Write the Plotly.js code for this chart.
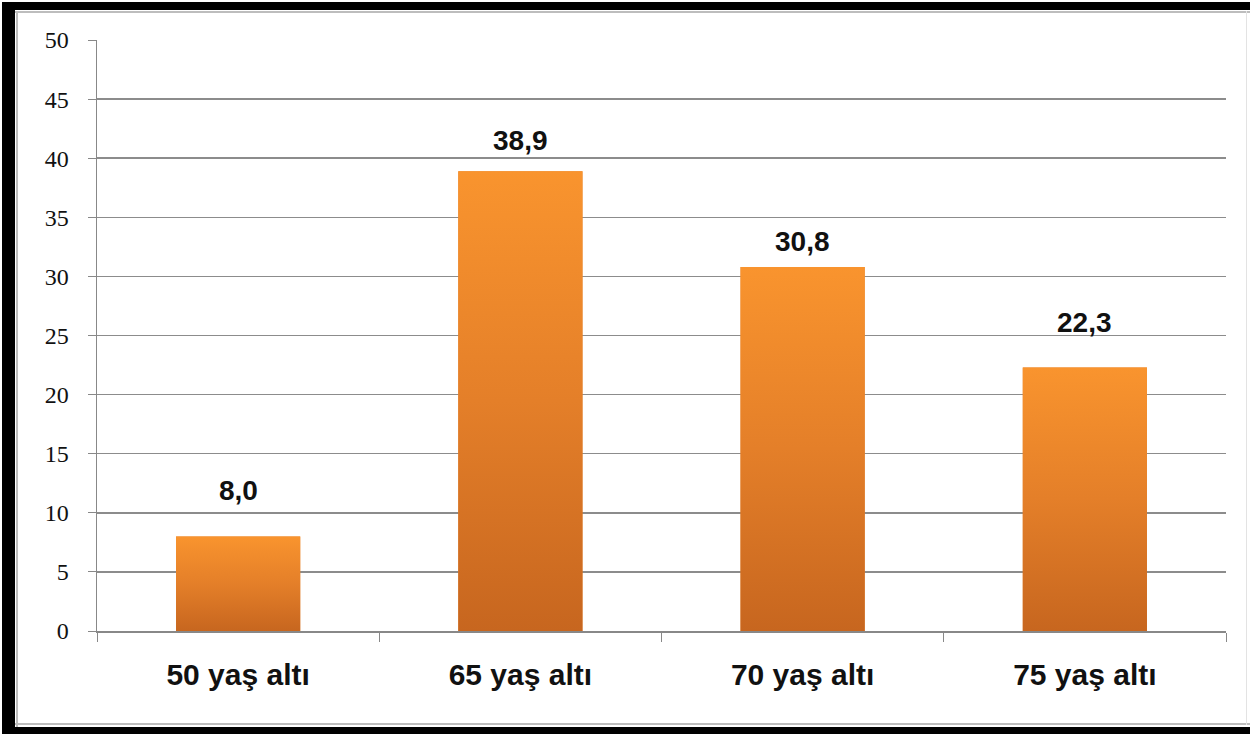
<!DOCTYPE html>
<html>
<head>
<meta charset="utf-8">
<script src="https://cdn.plot.ly/plotly-3.0.1.min.js"></script>
<style>
  html, body { margin: 0; padding: 0; background: #fff; }
  #wrap { position: relative; width: 1250px; height: 734px; overflow: hidden; background: #fff; }
  #chart { position: absolute; left: 0; top: 0; width: 1250px; height: 734px; }
  .f { position: absolute; pointer-events: none; }
</style>
</head>
<body>
<div id="wrap">
  <div id="chart"></div>
  <div class="f" style="left:2px;top:2px;right:0;height:8px;background:#000"></div>
  <div class="f" style="left:2px;top:2px;width:13px;bottom:0;background:#000"></div>
  <div class="f" style="left:2px;bottom:0;right:0;height:7px;background:#000"></div>
  <div class="f" style="left:15px;top:11px;right:0;height:2px;background:#bdbdbd"></div>
  <div class="f" style="left:16px;top:11px;width:2px;bottom:7px;background:#bdbdbd"></div>
  <div class="f" style="left:15px;bottom:9px;right:0;height:2px;background:#bdbdbd"></div>
  <div class="f" style="right:3px;top:11px;width:1px;bottom:9px;background:#e3e3e3"></div>
</div>
<script>
const categories = ["50 yaş altı", "65 yaş altı", "70 yaş altı", "75 yaş altı"];
const values = [8.0, 38.9, 30.8, 22.3];
const yTicks = [0, 5, 10, 15, 20, 25, 30, 35, 40, 45, 50];

// style: vertical pixel offsets of the value labels above each bar
const labelShift = [28, 13, 8, 27];

const barWidth = 0.44;
const half = barWidth / 2;

const traces = [];
traces.push({
  type: 'bar',
  x: categories,
  y: values,
  width: barWidth,
  marker: { color: '#E4802A', line: { width: 0 } },
  hoverinfo: 'x+y',
  showlegend: false
});
values.forEach((v, i) => {
  traces.push({
    type: 'scatter',
    xaxis: 'x2',
    x: [i - half, i + half, i + half, i - half, i - half],
    y: [0, 0, v, v, 0],
    mode: 'lines',
    line: { width: 0 },
    fill: 'toself',
    fillgradient: {
      type: 'vertical',
      colorscale: [[0, '#C7661F'], [0.5, '#E47F29'], [1, '#F9942E']]
    },
    hoverinfo: 'skip',
    showlegend: false
  });
});

const annotations = values.map((v, i) => ({
  x: categories[i],
  y: v,
  xref: 'x',
  yref: 'y',
  text: v.toFixed(1).replace('.', ','),
  showarrow: false,
  yanchor: 'bottom',
  yshift: labelShift[i],
  font: { family: 'Liberation Sans, Arial, sans-serif', size: 28, color: '#111', weight: 'bold' }
}));

const layout = {
  width: 1250,
  height: 734,
  margin: { l: 97, r: 24, t: 40, b: 103 },
  paper_bgcolor: 'rgba(0,0,0,0)',
  plot_bgcolor: 'rgba(0,0,0,0)',
  showlegend: false,
  bargap: 0.56,
  xaxis: {
    type: 'category',
    range: [-0.5, 3.5],
    tickson: 'boundaries',
    ticks: 'outside',
    ticklen: 9,
    tickcolor: '#888',
    showline: true,
    linecolor: '#888',
    linewidth: 1.5,
    showgrid: false,
    zeroline: false,
    ticklabelstandoff: 16,
    tickfont: { family: 'Liberation Sans, Arial, sans-serif', size: 30, color: '#111', weight: 'bold' }
  },
  xaxis2: {
    overlaying: 'x',
    range: [-0.5, 3.5],
    visible: false,
    fixedrange: true
  },
  yaxis: {
    range: [0, 50],
    tickvals: yTicks,
    ticktext: yTicks.map(String),
    ticks: 'outside',
    ticklen: 8,
    tickcolor: '#888',
    showline: true,
    linecolor: '#888',
    linewidth: 1.5,
    showgrid: true,
    gridcolor: '#8c8c8c',
    gridwidth: 1.5,
    zeroline: false,
    ticklabelstandoff: 14,
    tickfont: { family: 'Liberation Serif, Times New Roman, serif', size: 24, color: '#111' }
  },
  annotations: annotations
};

Plotly.newPlot('chart', traces, layout, { displayModeBar: false, staticPlot: true });
</script>
</body>
</html>
